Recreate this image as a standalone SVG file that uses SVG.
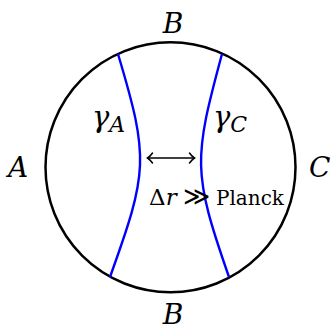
<svg xmlns="http://www.w3.org/2000/svg" width="332" height="330" viewBox="0 0 332 330">
<defs>
<style>
.geo{fill:none;stroke:#0000ff;stroke-width:2.4}
.tip{fill:none;stroke:#000;stroke-width:1.5;stroke-linecap:round}
</style>
</defs>
<rect width="332" height="330" fill="#fff"/>
<g id="boundary">
<circle cx="170.5" cy="167.3" r="125" fill="none" stroke="#000" stroke-width="2.5"/>
</g>
<g font-family="DejaVu Serif, serif" fill="#000">
<g id="gammaA">
<path class="geo" d="M118,54 C149.5,159 147.8,172 110,277"/>
<text x="92" y="127" font-style="italic" font-size="29">γ<tspan font-size="22" dy="5">A</tspan></text>
</g>
<g id="gammaC">
<path class="geo" d="M222,54 C193.6,159 192.3,172 229,277"/>
<text x="213" y="127" font-style="italic" font-size="29">γ<tspan font-size="22" dy="5">C</tspan></text>
</g>
<g id="labelB-top"><text x="173" y="33" text-anchor="middle" font-style="italic" font-size="28">B</text></g>
<g id="labelB-bottom"><text x="173" y="324" text-anchor="middle" font-style="italic" font-size="28">B</text></g>
<g id="labelA"><text x="8" y="177" font-style="italic" font-size="28">A</text></g>
<g id="labelC"><text x="309" y="177" font-style="italic" font-size="28">C</text></g>
<g id="note"><text y="205" font-size="20"><tspan x="149" font-size="23">Δ</tspan><tspan font-style="italic" font-size="23">r</tspan><tspan x="183" font-size="26">≫</tspan><tspan x="216">Planck</tspan></text></g>
</g>
<g id="connectors">
<path d="M148,158 H194" stroke="#000" stroke-width="1.6" fill="none"/>
<path class="tip" d="M152.5,153 Q150,156.5 147.5,158 Q150,159.5 152.5,163"/>
<path class="tip" d="M189.5,153 Q192,156.5 194.5,158 Q192,159.5 189.5,163"/>
</g>
</svg>
